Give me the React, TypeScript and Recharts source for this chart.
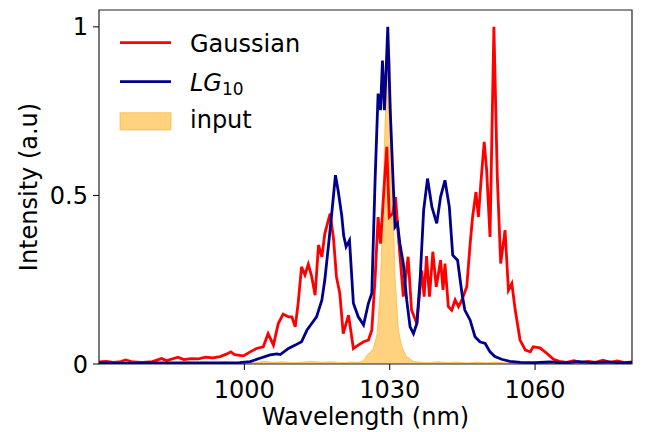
import React from 'react';
import { ComposedChart, Line, Area, XAxis, YAxis, ReferenceArea, Legend } from 'recharts';

// ---- data ----
const gaussWl = [
  970, 971.5, 973, 974.5, 975.5, 977, 979, 981, 982.9, 984, 986.3, 987.5, 989, 990.5, 992, 993.5, 995,
  996.4, 997.2, 998, 999.8, 1001.2, 1002.5, 1003.9, 1004.9, 1006, 1007, 1008, 1009.1, 1009.8, 1010.5,
  1011.1, 1011.8, 1012.5, 1013.2, 1013.9, 1014.6, 1015.3, 1016, 1016.6, 1017.7, 1018.4, 1019, 1019.7,
  1020.4, 1021.5, 1022.5, 1023.5, 1024.6, 1025.6, 1026.3, 1027, 1027.6, 1028.1, 1028.7, 1029.4, 1029.9,
  1030.6, 1031.2, 1031.8, 1032.8, 1033.8, 1034.5, 1035.6, 1036.6, 1037.1, 1037.6, 1038.2, 1038.9,
  1039.6, 1040.5, 1041.0, 1041.4, 1042.1, 1042.8, 1043.5, 1044.2, 1044.9, 1045.9, 1046.6, 1047.1,
  1047.8, 1048.3, 1048.8, 1049.5, 1050, 1050.7, 1051.5, 1052.2, 1052.9, 1053.8, 1054.5, 1055.2, 1055.9,
  1056.9, 1058, 1059, 1059.6, 1061, 1062.4, 1063.8, 1065, 1066.5, 1068, 1069.5, 1071, 1072.5, 1074,
  1075.5, 1077, 1078.5, 1080,
];
const gaussI = [
  0.006, 0.008, 0.005, 0.007, 0.012, 0.006, 0.005, 0.007, 0.016, 0.01, 0.02, 0.013, 0.016, 0.015, 0.02, 0.018, 0.022,
  0.03, 0.036, 0.028, 0.024, 0.036, 0.046, 0.051, 0.09, 0.056, 0.12, 0.148, 0.14, 0.14, 0.11,
  0.18, 0.288, 0.264, 0.296, 0.259, 0.204, 0.353, 0.318, 0.387, 0.446, 0.372, 0.259, 0.209,
  0.09, 0.145, 0.046, 0.056, 0.066, 0.071, 0.1, 0.259, 0.436, 0.357, 0.495, 0.644, 0.436,
  0.446, 0.495, 0.377, 0.2, 0.318, 0.16, 0.12, 0.278, 0.2, 0.32, 0.2, 0.333,
  0.229, 0.308, 0.22, 0.298, 0.17, 0.16, 0.19, 0.17, 0.19, 0.229, 0.357, 0.436,
  0.51, 0.436, 0.535, 0.659, 0.575, 0.377, 1.0, 0.555, 0.298, 0.397, 0.219, 0.239, 0.16,
  0.071, 0.041, 0.036, 0.051, 0.048, 0.032, 0.014, 0.008, 0.005, 0.01, 0.004, 0.008, 0.005, 0.011,
  0.005, 0.009, 0.004, 0.006,
];

const lgWl = [
  970, 975, 980, 985, 990, 995, 997, 999, 1001.2, 1003.2, 1005.3, 1006.7, 1007.4, 1009.1, 1010.5, 1011.8,
  1012.9, 1013.9, 1014.9, 1016, 1016.6, 1017.4, 1018.1, 1018.8, 1019.4, 1020.1, 1020.5, 1021, 1021.7,
  1022.5, 1023.5, 1024.6, 1025.6, 1026.3, 1027, 1027.6, 1028.1, 1028.5, 1028.9, 1029.2, 1029.6, 1030.1,
  1030.6, 1031.1, 1031.6, 1032.1, 1032.8, 1033.5, 1034.2, 1034.9, 1035.6, 1036.3, 1037, 1037.8, 1038.7,
  1039.7, 1040.5, 1041.4, 1042.3, 1043, 1044, 1044.9, 1045.5, 1046.6, 1047.6, 1048.6, 1049.7, 1050.7,
  1051.7, 1053.1, 1054.8, 1057, 1060, 1063, 1066, 1069, 1072, 1075, 1078, 1080,
];
const lgI = [
  0.003, 0.002, 0.003, 0.003, 0.003, 0.003, 0.003, 0.004, 0.007, 0.017, 0.027, 0.03, 0.028, 0.046, 0.056, 0.066,
  0.1, 0.12, 0.14, 0.19, 0.249, 0.357, 0.456, 0.56, 0.51, 0.44, 0.38, 0.348, 0.367,
  0.18, 0.14, 0.116, 0.18, 0.21, 0.555, 0.802, 0.753, 0.9, 0.753, 0.851, 1.0, 0.753,
  0.575, 0.407, 0.417, 0.357, 0.298, 0.19, 0.11, 0.09, 0.12, 0.259, 0.456, 0.55, 0.466,
  0.417, 0.496, 0.545, 0.466, 0.323, 0.308, 0.21, 0.16, 0.13, 0.081, 0.066, 0.061, 0.036,
  0.022, 0.014, 0.008, 0.005, 0.004, 0.006, 0.003, 0.007, 0.004, 0.006, 0.003, 0.005,
];

const inputWl = [
  970, 972, 974, 976, 978, 980, 982, 984, 986, 988, 990, 992, 994, 996, 998, 1000, 1002, 1004, 1006, 1008,
  1010, 1012, 1014, 1016, 1018, 1020, 1022, 1023.5, 1024.6, 1025.3, 1026, 1026.6, 1027.4, 1028, 1028.5,
  1029, 1029.4, 1029.7, 1030.1, 1030.4, 1030.7, 1031.1, 1031.8, 1032.5, 1033.5, 1034.9, 1036, 1038, 1040,
  1042, 1044, 1046, 1048, 1050, 1052, 1054, 1056, 1060, 1065, 1070, 1075, 1080,
];
const inputI = [
  0.004, 0.007, 0.003, 0.006, 0.004, 0.007, 0.003, 0.006, 0.004, 0.008, 0.004, 0.006, 0.003, 0.007, 0.004, 0.006, 0.004, 0.008, 0.005, 0.007,
  0.004, 0.006, 0.008, 0.005, 0.007, 0.004, 0.006, 0.005, 0.01, 0.027, 0.035, 0.046, 0.09, 0.21, 0.42,
  0.7, 0.85, 0.96, 0.9, 0.7, 0.456, 0.259, 0.1, 0.051, 0.022, 0.008, 0.006, 0.004, 0.007,
  0.004, 0.006, 0.003, 0.006, 0.004, 0.006, 0.003, 0.004, 0.003, 0.004, 0.003, 0.004, 0.003,
];

const xTicks = [1000, 1030, 1060];
const yTicks = [0, 0.5, 1];
const yTickLabels = ['0', '0.5', '1'];

const gaussData = gaussWl.map((wl, i) => ({ wl, v: gaussI[i] }));
const lgData = lgWl.map((wl, i) => ({ wl, v: lgI[i] }));
const inputData = inputWl.map((wl, i) => ({ wl, v: inputI[i] }));

const FONT = '"DejaVu Sans", Verdana, sans-serif';
const FS = 24;
const LW = 2.8;

function LegendBox() {
  return (
    <svg width={230} height={120} style={{ display: 'block', overflow: 'visible' }}>
      <line x1={10} x2={61} y1={22.7} y2={22.7} stroke="#ff0000" strokeWidth={LW} />
      <text x={80} y={31.5} fontSize={FS} fontFamily={FONT} fill="#000">Gaussian</text>
      <line x1={10} x2={61} y1={61.7} y2={61.7} stroke="#00008b" strokeWidth={LW} />
      <text x={80} y={70.7} fontSize={FS} fontFamily={FONT} fill="#000">
        <tspan fontStyle="italic">LG</tspan>
        <tspan fontSize={17} dy={4}>10</tspan>
      </text>
      <rect x={10} y={92.7} width={51} height={17.3} fill="#ffa500" fillOpacity={0.5} stroke="#ffa500" strokeOpacity={0.5} strokeWidth={1} />
      <text x={80} y={108.3} fontSize={FS} fontFamily={FONT} fill="#000">input</text>
    </svg>
  );
}

const XLabel = (props: any) => {
  const vb = props.viewBox || { x: 99, y: 364, width: 533, height: 68 };
  return (
    <text x={vb.x + vb.width / 2} y={vb.y + 61} textAnchor="middle" fontSize={FS} fontFamily={FONT} fill="#000">
      Wavelength (nm)
    </text>
  );
};

const YLabel = (props: any) => {
  const vb = props.viewBox || { x: 0, y: 10, width: 99, height: 354 };
  const cy = vb.y + vb.height / 2;
  return (
    <text transform={`translate(37, ${cy}) rotate(-90)`} x={0} y={0} textAnchor="middle" fontSize={FS} fontFamily={FONT} fill="#000">
      Intensity (a.u)
    </text>
  );
};

export default function App() {
  return (
    <div style={{ position: 'absolute', left: 0, top: 0, width: 645, height: 432, background: '#fff' }}>
      <ComposedChart width={645} height={432} margin={{ top: 10, right: 13, bottom: 0, left: 0 }}>
        <XAxis
          dataKey="wl"
          type="number"
          domain={[970, 1080]}
          ticks={xTicks}
          allowDataOverflow
          height={68}
          axisLine={false}
          tickSize={6}
          tickMargin={11}
          tickLine={{ stroke: '#000', strokeWidth: 1 }}
          tick={{ fontSize: FS, fontFamily: FONT, fill: '#000' }}
          label={<XLabel />}
        />
        <YAxis
          type="number"
          domain={[0, 1.05]}
          ticks={yTicks}
          allowDataOverflow
          width={99}
          axisLine={false}
          tickSize={6}
          tickMargin={5}
          tickLine={{ stroke: '#000', strokeWidth: 1 }}
          tick={{ fontSize: FS, fontFamily: FONT, fill: '#000' }}
          tickFormatter={(v: number) => yTickLabels[yTicks.indexOf(v)] ?? String(v)}
          label={<YLabel />}
        />
        <Area
          data={inputData}
          dataKey="v"
          type="linear"
          fill="#ffa500"
          fillOpacity={0.5}
          stroke="#ffa500"
          strokeOpacity={0.5}
          strokeWidth={1}
          isAnimationActive={false}
          name="input"
        />
        <Line data={gaussData} dataKey="v" type="linear" stroke="#ff0000" strokeWidth={LW} dot={false} isAnimationActive={false} name="Gaussian" />
        <Line data={lgData} dataKey="v" type="linear" stroke="#00008b" strokeWidth={LW} dot={false} isAnimationActive={false} name="LG10" />
        <ReferenceArea x1={970} x2={1080} y1={0} y2={1.05} fill="none" fillOpacity={0} stroke="#222" strokeWidth={1.2} ifOverflow="visible" />
        <Legend
          layout="horizontal"
          verticalAlign="middle"
          align="center"
          content={() => <LegendBox />}
          wrapperStyle={{ position: 'absolute', left: 110, top: 20, width: 230, height: 120 }}
        />
      </ComposedChart>
    </div>
  );
}
